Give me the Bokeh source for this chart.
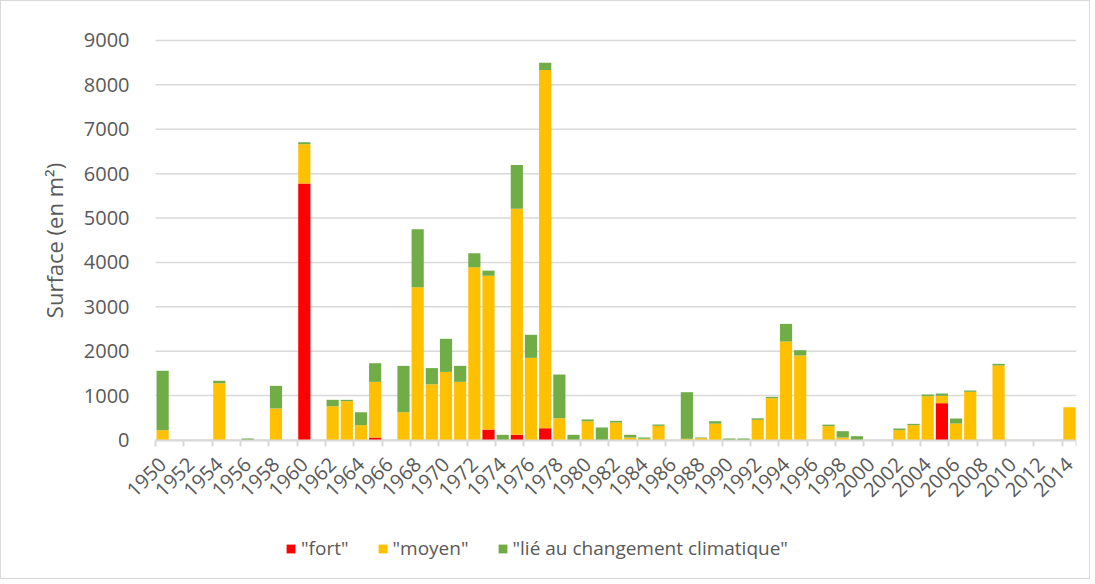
import math
from bokeh.plotting import figure
from bokeh.models import (ColumnDataSource, FixedTicker, Legend, LegendItem,
                          NumeralTickFormatter, Range1d)
from bokeh.embed import file_html
from bokeh.resources import INLINE

years = list(range(1950, 2015))
fort = [0, 0, 0, 0, 0, 0, 0, 0, 0, 0,
        5780, 0, 0, 0, 0, 55, 0, 0, 0, 0,
        0, 0, 0, 235, 0, 117, 0, 265, 0, 0,
        0, 0, 0, 0, 0, 0, 0, 0, 0, 0,
        0, 0, 0, 0, 0, 0, 0, 0, 0, 0,
        0, 0, 0, 0, 0, 829, 0, 0, 0, 0,
        0, 0, 0, 0, 0]
moyen = [220, 0, 0, 0, 1280, 0, 0, 0, 710, 0,
         880, 0, 760, 875, 335, 1255, 0, 625, 3440, 1255,
         1535, 1310, 3890, 3465, 0, 5090, 1850, 8070, 490, 0,
         423, 0, 394, 56, 27, 319, 0, 27, 41, 368,
         0, 0, 454, 942, 2218, 1903, 0, 312, 56, 0,
         0, 0, 221, 334, 987, 166, 371, 1085, 0, 1678,
         0, 0, 0, 0, 739]
lie = [1340, 0, 0, 0, 55, 0, 35, 0, 510, 0,
       50, 0, 145, 30, 290, 420, 0, 1045, 1310, 365,
       745, 360, 315, 115, 117, 990, 520, 165, 985, 117,
       40, 282, 38, 61, 29, 30, 0, 1050, 15, 56,
       34, 34, 34, 30, 398, 120, 0, 34, 143, 86,
       0, 0, 38, 30, 38, 52, 113, 30, 0, 38,
       0, 0, 0, 0, 0]
series_labels = ['"fort"', '"moyen"', '"lié au changement climatique"']
series_colors = ["#FF0000", "#FFC000", "#70AD47"]
y_ticks = [0, 1000, 2000, 3000, 4000, 5000, 6000, 7000, 8000, 9000]
x_tick_years = years[::2]

FONT = "Open Sans"
TXT = "#595959"
GRID = "#D9D9D9"

x_lo = years[0] - 0.5
x_hi = years[-1] + 0.5

source = ColumnDataSource(data=dict(year=years, fort=fort, moyen=moyen, lie=lie))
grid_src = ColumnDataSource(data=dict(x0=[x_lo] * len(y_ticks), x1=[x_hi] * len(y_ticks),
                                      y=y_ticks))

# frame extends beyond the category area on the left, top and bottom so that
# the axes' labels and the legend can be drawn inside it without being clipped
p = figure(width=1090, height=579, output_backend="svg", toolbar_location=None,
           x_range=Range1d(x_lo - 8.12, x_hi),
           y_range=Range1d(-2827, 9450),
           min_border_left=39, min_border_right=15,
           min_border_top=19, min_border_bottom=15)
p.outline_line_color = None
p.background_fill_color = "white"
p.border_fill_color = "white"
p.xgrid.visible = False
p.ygrid.visible = False

# horizontal grid lines only across the category area
p.segment(x0="x0", x1="x1", y0="y", y1="y", source=grid_src,
          line_color=GRID, line_width=1.5)

renderers = p.vbar_stack(["fort", "moyen", "lie"], x="year", width=0.86,
                         color=series_colors, line_color=None, source=source)

# y axis at the first category boundary
p.yaxis.fixed_location = x_lo
p.yaxis.bounds = (y_ticks[0], y_ticks[-1])
p.yaxis.ticker = FixedTicker(ticks=y_ticks)
p.yaxis.axis_line_color = None
p.yaxis.major_tick_line_color = None
p.yaxis.minor_tick_line_color = None
p.yaxis.major_label_standoff = 20
p.yaxis.major_label_text_font = FONT
p.yaxis.major_label_text_font_size = "20px"
p.yaxis.major_label_text_color = TXT
p.yaxis.axis_label = "Surface (en m²)"
p.yaxis.axis_label_text_font = FONT
p.yaxis.axis_label_text_font_size = "22px"
p.yaxis.axis_label_text_font_style = "normal"
p.yaxis.axis_label_text_color = TXT
p.yaxis.axis_label_standoff = 12
p.yaxis.formatter = NumeralTickFormatter(format="0")

# x axis at y = 0: labels at even years, tick marks between categories
p.xaxis.fixed_location = 0
p.xaxis.bounds = (x_lo, x_hi)
p.xaxis.ticker = FixedTicker(ticks=x_tick_years,
                             minor_ticks=[y - 0.5 for y in x_tick_years] + [x_hi])
p.xaxis.major_tick_line_color = None
p.xaxis.minor_tick_line_color = GRID
p.xaxis.minor_tick_line_width = 2
p.xaxis.minor_tick_out = 6
p.xaxis.minor_tick_in = 0
p.xaxis.axis_line_color = GRID
p.xaxis.axis_line_width = 2
p.xaxis.major_label_orientation = math.pi / 4
p.xaxis.major_label_standoff = 15
p.xaxis.major_label_text_font = FONT
p.xaxis.major_label_text_font_size = "20px"
p.xaxis.major_label_text_color = TXT

legend = Legend(items=[LegendItem(label=series_labels[i], renderers=[renderers[i]])
                       for i in range(3)],
                orientation="horizontal", location=(245, 4),
                label_text_font=FONT, label_text_font_size="19px",
                label_text_color=TXT, glyph_width=11, glyph_height=11,
                label_standoff=5, spacing=28, padding=0, margin=0,
                border_line_color=None, background_fill_alpha=0)
p.add_layout(legend, "center")

p.styles = {"border": "1px solid #D9D9D9"}

open("out.html", "w").write(file_html(p, INLINE))
